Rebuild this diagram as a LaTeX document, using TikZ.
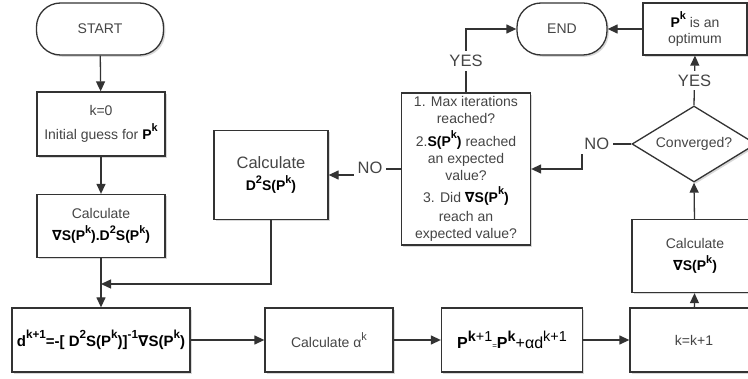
\documentclass[tikz,border=0pt]{standalone}
\usepackage{fontspec}
\setmainfont{Liberation Sans}
\newfontfamily\dvs{DejaVu Sans}
\usetikzlibrary{shapes.geometric,shadows,arrows.meta}
\definecolor{txt}{HTML}{454545}
\definecolor{ln}{HTML}{333333}
\newcommand{\nab}{{\dvs\bfseries ∇}}
\newcommand{\B}[1]{\textcolor{black}{\textbf{#1}}}
\newcommand{\su}[1]{\raisebox{0.55em}{\scalebox{0.78}{#1}}}
\newcommand{\sul}[1]{\raisebox{0.45em}{\scalebox{0.9}{#1}}}
\begin{document}
\begin{tikzpicture}[x=1pt,y=-1pt,
  box/.style={draw=ln, line width=1.3pt, fill=white,
    drop shadow={opacity=0.3,shadow xshift=1.8pt,shadow yshift=-1.8pt},
    inner sep=0pt, text=txt, font=\fontsize{14}{16.5}\selectfont, align=center},
  term/.style={box, rounded corners=24pt},
  arr/.style={draw=ln, line width=1.3pt, -{Triangle[length=10pt,width=9pt]}},
  lbl/.style={fill=white, text=txt, font=\fontsize{16.5}{18}\selectfont, inner sep=4pt}]
\clip (0,0) rectangle (748,379);
\fill[white] (0,0) rectangle (748,379);

\node[term, minimum width=127pt, minimum height=52pt] (start) at (100,29) {START};
\node[box, minimum width=128pt, minimum height=64pt] (k0) at (101,124)
  {k=0\\[7pt]Initial guess for \B{P\su{k}}};
\node[box, minimum width=128pt, minimum height=63pt] (calc1) at (101,226)
  {Calculate\\[6pt]{\fontsize{14}{17}\selectfont\B{\nab S(P\su{k}).D\su{2}S(P\su{k})}}};
\node[box, minimum width=178pt, minimum height=64pt] (dbox) at (101,340)
  {\fontsize{15}{16}\selectfont\B{d\su{k+1}=-[ D\su{2}S(P\su{k})]\su{-1}\nab S(P\su{k})}};
\node[box, minimum width=128pt, minimum height=64pt] (alpha) at (329,340)
  {Calculate α\su{k}};
\node[box, minimum width=141pt, minimum height=64pt] (pup) at (512,340)
  {\fontsize{16}{18}\selectfont\textcolor{black}{\textbf{P}\sul{\textbf{k}+1}{\footnotesize=}\textbf{P}\sul{\textbf{k}}+αd\sul{k+1}}};
\node[box, minimum width=128pt, minimum height=64pt] (kk) at (694,340) {k=k+1};
\node[box, minimum width=126pt, minimum height=73pt] (calc2) at (695,256)
  {Calculate\\[6pt]{\fontsize{14}{17}\selectfont\B{\nab S(P\su{k})}}};
\node[box, shape=diamond, aspect=1.63, minimum width=124pt, minimum height=76pt] (conv) at (694,144)
  {Converged?};
\node[box, minimum width=104pt, minimum height=52pt] (opt) at (695,29)
  {\B{P\su{k}} is an\\optimum};
\node[term, minimum width=90pt, minimum height=52pt] (endn) at (562,29) {END};
\node[box, minimum width=129pt, minimum height=152pt, font=\fontsize{14}{17}\selectfont] (dec) at (466,169)
  {1. Max iterations\\reached?\\[6pt]2.\B{S(P\su{k})} reached\\an expected\\value?\\[5pt]3. Did \B{\nab S(P\su{k})}\\[2pt]reach an\\expected value?};
\node[box, minimum width=114pt, minimum height=89pt] (d2) at (271,175)
  {{\fontsize{16.5}{19}\selectfont Calculate}\\[6pt]{\fontsize{14}{17}\selectfont\B{D\su{2}S(P\su{k})}}};

\coordinate (m) at (101,284);
\coordinate (c1) at (582,144);
\coordinate (c2) at (377,169);

\draw[arr] (start) -- (k0);
\draw[arr] (k0) -- (calc1);
\draw[arr] (calc1) -- (dbox);
\draw[arr] (d2.south) |- (m);
\draw[arr] (dbox) -- (alpha);
\draw[arr] (alpha) -- (pup);
\draw[arr] (pup) -- (kk);
\draw[arr] (kk) -- (calc2);
\draw[arr] (calc2) -- (conv.south);
\draw[arr] (conv.north) -- node[lbl]{YES} (opt.south);
\draw[arr] (opt.west) -- (endn.east);
\draw[arr] (conv.west) -- node[lbl, pos=0.7]{NO} (c1) |- (dec.east);
\draw[arr] (dec.north) |- node[lbl, pos=0.25]{YES} (endn.west);
\draw[arr] (dec.west) -- (c2) |- (d2.east);
\node[lbl] (nolbl) at (370,168) {NO};
\end{tikzpicture}
\end{document}
